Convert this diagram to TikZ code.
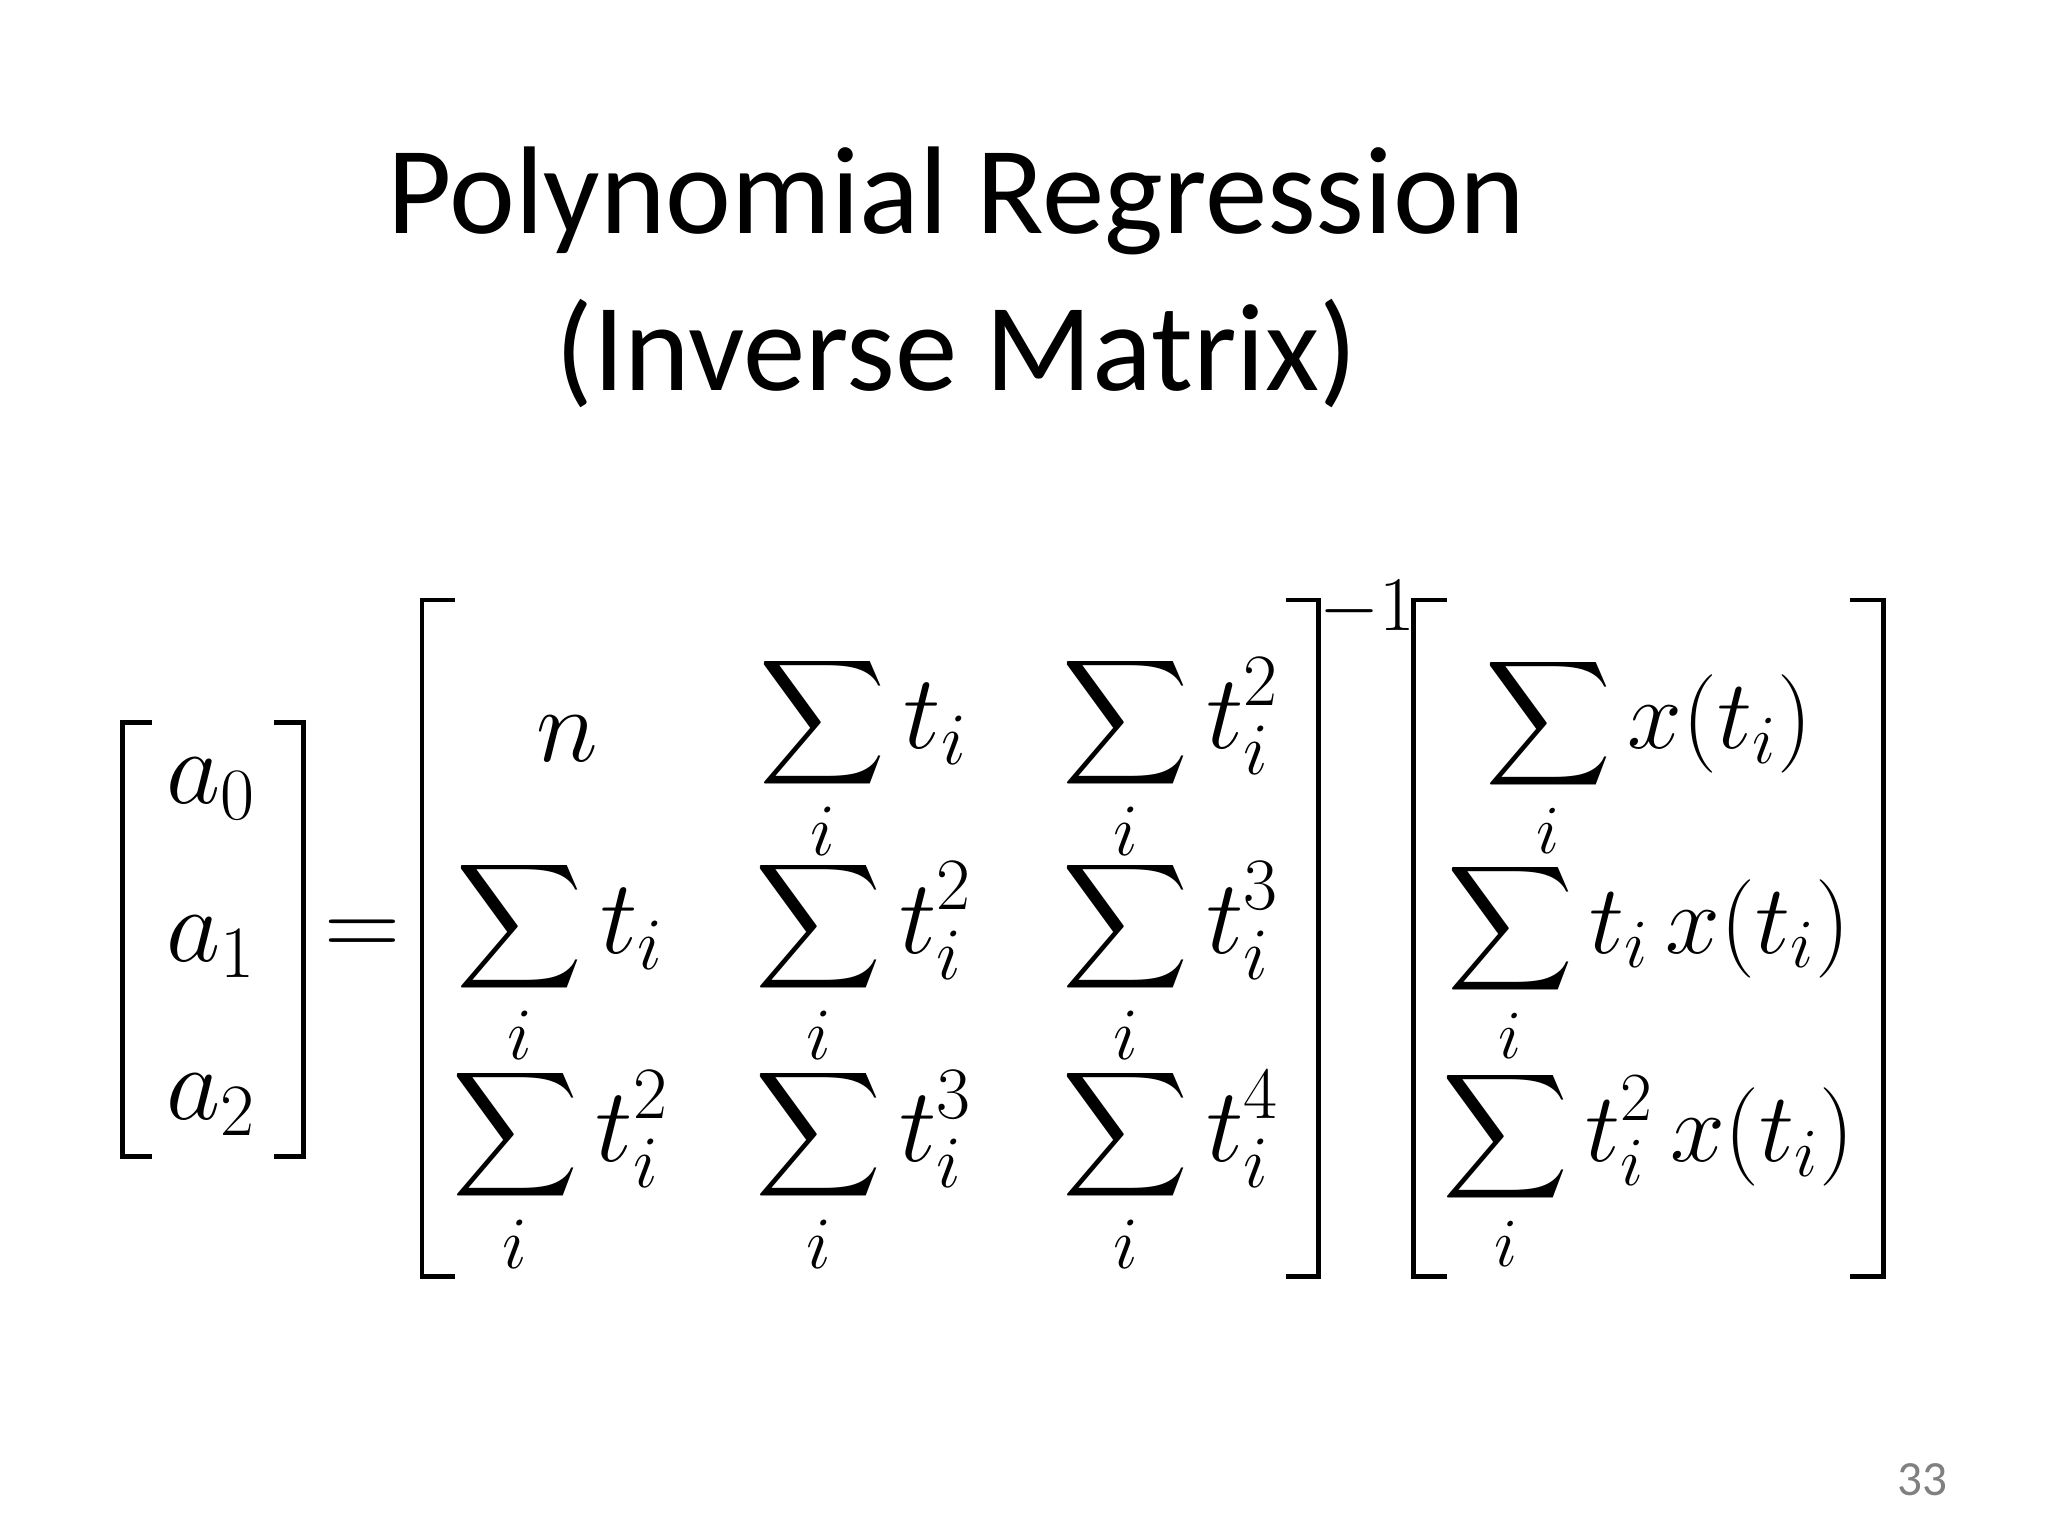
\documentclass[tikz,border=0pt]{standalone}
\usepackage{fix-cm}
\usepackage{amsmath}
\usepackage{fontspec}
\setmainfont{Carlito}
\begin{document}
\begin{tikzpicture}[x=0.013188cm,y=-0.013188cm,
  ttl/.style={font=\fontsize{35.5}{42}\selectfont},
  mth/.style={font=\fontsize{30}{36}\selectfont},
  mthr/.style={font=\fontsize{28}{34}\selectfont},
  br/.style={line width=1.4pt}]
\useasboundingbox (0,0) rectangle (1553,1164);
\node[ttl] (t1) at (725,152) {Polynomial Regression};
\node[ttl] (t2) at (725,268) {(Inverse Matrix)};
% vector a
\draw[br] (115,548) -- (93,548) -- (93,877) -- (115,877);
\draw[br] (208,548) -- (230,548) -- (230,877) -- (208,877);
\node[mth] (a0) at (160,598) {$a_0$};
\node[mth] (a1) at (160,718) {$a_1$};
\node[mth] (a2) at (160,838) {$a_2$};
\node[mth] (eq) at (275,712) {$=$};
% big matrix
\draw[br] (345,455) -- (320,455) -- (320,968) -- (345,968);
\draw[br] (975,455) -- (1000,455) -- (1000,968) -- (975,968);
\node[font=\fontsize{22}{26}\selectfont] (inv) at (1037,462) {$-1$};
\draw[br] (1097,455) -- (1072,455) -- (1072,968) -- (1097,968);
\draw[br] (1403,455) -- (1428,455) -- (1428,968) -- (1403,968);
\node[mth] (m11) at (430,560) {$n$};
\node[mth] (m12) at (655,575) {$\displaystyle\sum_i t_i$};
\node[mth] (m13) at (888,575) {$\displaystyle\sum_i t_i^2$};
\node[mth] (m21) at (425,730) {$\displaystyle\sum_i t_i$};
\node[mth] (m22) at (655,730) {$\displaystyle\sum_i t_i^2$};
\node[mth] (m23) at (888,730) {$\displaystyle\sum_i t_i^3$};
\node[mth] (m31) at (425,888) {$\displaystyle\sum_i t_i^2$};
\node[mth] (m32) at (655,888) {$\displaystyle\sum_i t_i^3$};
\node[mth] (m33) at (888,888) {$\displaystyle\sum_i t_i^4$};
\node[mthr] (r1) at (1250,575) {$\displaystyle\sum_i x(t_i)$};
\node[mthr] (r2) at (1250,730) {$\displaystyle\sum_i t_i\,x(t_i)$};
\node[mthr] (r3) at (1250,888) {$\displaystyle\sum_i t_i^2\,x(t_i)$};
\node[text=gray,font=\fontsize{14}{16}\selectfont] (pg) at (1458,1122) {33};
\end{tikzpicture}
\end{document}
